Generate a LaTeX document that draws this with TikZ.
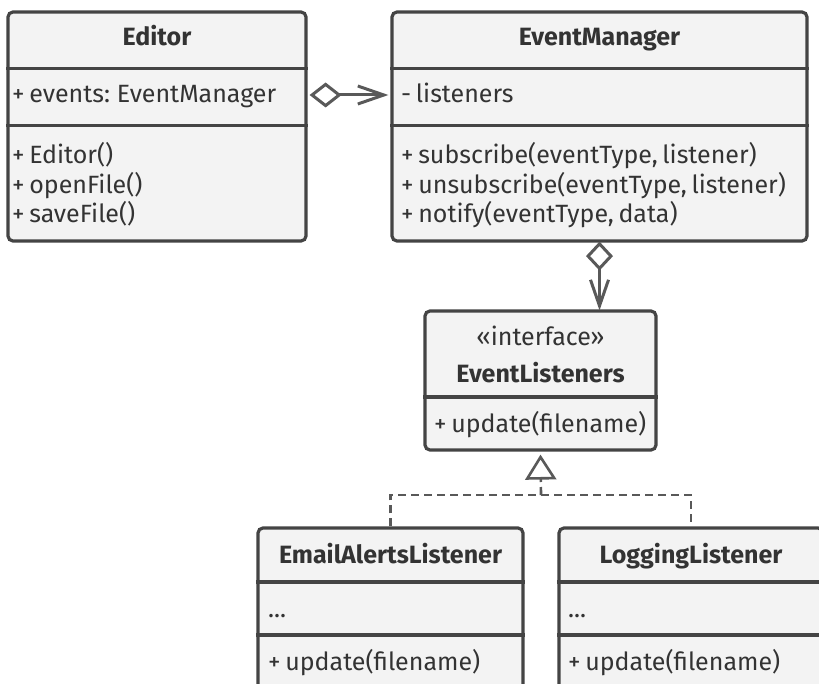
\documentclass[tikz,border=0pt]{standalone}
\usepackage{fontspec}
\setmainfont{Fira Sans}[WordSpace=0.7]
\usetikzlibrary{arrows.meta}
\definecolor{ink}{HTML}{333333}
\definecolor{frame}{HTML}{444444}
\definecolor{boxfill}{HTML}{F3F3F3}
\definecolor{conn}{HTML}{595959}
\tikzset{
  cls/.style={draw=frame, fill=boxfill, line width=3.2pt, rounded corners=5pt, inner sep=0pt, rectangle},
  sepline/.style={draw=frame, line width=3.2pt},
  txt/.style={text=ink, inner sep=0pt, font=\fontsize{25}{30}\selectfont},
  hdr/.style={text=ink, inner sep=0pt, font=\fontsize{25}{30}\selectfont\bfseries},
  conline/.style={draw=conn, line width=3pt},
  dashline/.style={draw=conn, line width=2.6pt, dash pattern=on 8pt off 5pt},
}
\begin{document}
\begin{tikzpicture}[x=1pt,y=-1pt]
\clip (0,0) rectangle (819,684);
\fill[white] (0,0) rectangle (819,684);
% boxes
\node[cls, minimum width=298pt, minimum height=229pt] (editor) at (157,126.5) {};
\node[cls, minimum width=415pt, minimum height=229pt] (em) at (599.5,126.5) {};
\node[cls, minimum width=231pt, minimum height=139pt] (el) at (540.5,380.5) {};
\node[cls, minimum width=265pt, minimum height=180pt] (email) at (390.5,618) {};
\node[cls, minimum width=264pt, minimum height=180pt] (logging) at (691,618) {};
% separators
\draw[sepline] (editor.west |- 0,68.5) -- (editor.east |- 0,68.5);
\draw[sepline] (editor.west |- 0,125.5) -- (editor.east |- 0,125.5);
\draw[sepline] (em.west |- 0,68.5) -- (em.east |- 0,68.5);
\draw[sepline] (em.west |- 0,125.5) -- (em.east |- 0,125.5);
\draw[sepline] (el.west |- 0,397) -- (el.east |- 0,397);
\draw[sepline] (email.west |- 0,582) -- (email.east |- 0,582);
\draw[sepline] (email.west |- 0,635) -- (email.east |- 0,635);
\draw[sepline] (logging.west |- 0,582) -- (logging.east |- 0,582);
\draw[sepline] (logging.west |- 0,635) -- (logging.east |- 0,635);
% texts Editor
\node[hdr, anchor=base] (editor-h) at (157,46) {Editor};
\node[txt, anchor=base west] (editor-a1) at (12,103) {+ events: EventManager};
\node[txt, anchor=base west] (editor-m1) at (12,164) {+ Editor()};
\node[txt, anchor=base west] (editor-m2) at (12,194) {+ openFile()};
\node[txt, anchor=base west] (editor-m3) at (12,223) {+ saveFile()};
% texts EventManager
\node[hdr, anchor=base] (em-h) at (599.5,46) {EventManager};
\node[txt, anchor=base west] (em-a1) at (401,103) {- listeners};
\node[txt, anchor=base west] (em-m1) at (401,164) {+ subscribe(eventType, listener)};
\node[txt, anchor=base west] (em-m2) at (401,194) {+ unsubscribe(eventType, listener)};
\node[txt, anchor=base west] (em-m3) at (401,223) {+ notify(eventType, data)};
% texts EventListeners
\node[txt, anchor=base] (el-s) at (540.5,346) {«interface»};
\node[hdr, anchor=base] (el-h) at (540.5,382) {EventListeners};
\node[txt, anchor=base west] (el-m1) at (434,432) {+ update(filename)};
% texts EmailAlertsListener
\node[hdr, anchor=base] (email-h) at (390.5,563) {EmailAlertsListener};
\node[txt, anchor=base west] (email-a1) at (268,617) {...};
\node[txt, anchor=base west] (email-m1) at (268,670) {+ update(filename)};
% texts LoggingListener
\node[hdr, anchor=base] (logging-h) at (691,563) {LoggingListener};
\node[txt, anchor=base west] (logging-a1) at (568,617) {...};
\node[txt, anchor=base west] (logging-m1) at (568,670) {+ update(filename)};
% connectors
\draw[conline, {Diamond[open, length=32pt, width=25pt]}-{Straight Barb[length=26pt, width=18pt]}]
  ([xshift=2pt]editor.east |- 0,95) -- ([xshift=-2pt]em.west |- 0,95);
\draw[conline, {Diamond[open, length=29pt, width=27pt]}-{Straight Barb[length=26pt, width=18pt]}]
  ([yshift=1pt]em.south) -- ([yshift=-1pt]em.south |- el.north);
\coordinate (bus) at (541,495);
\draw[dashline] (email.north) |- (bus) -| (logging.north);
\draw[dashline, -{Triangle[open, length=25pt, width=31pt]}] (bus) -- ([yshift=-3pt]el.south);
\end{tikzpicture}
\end{document}
